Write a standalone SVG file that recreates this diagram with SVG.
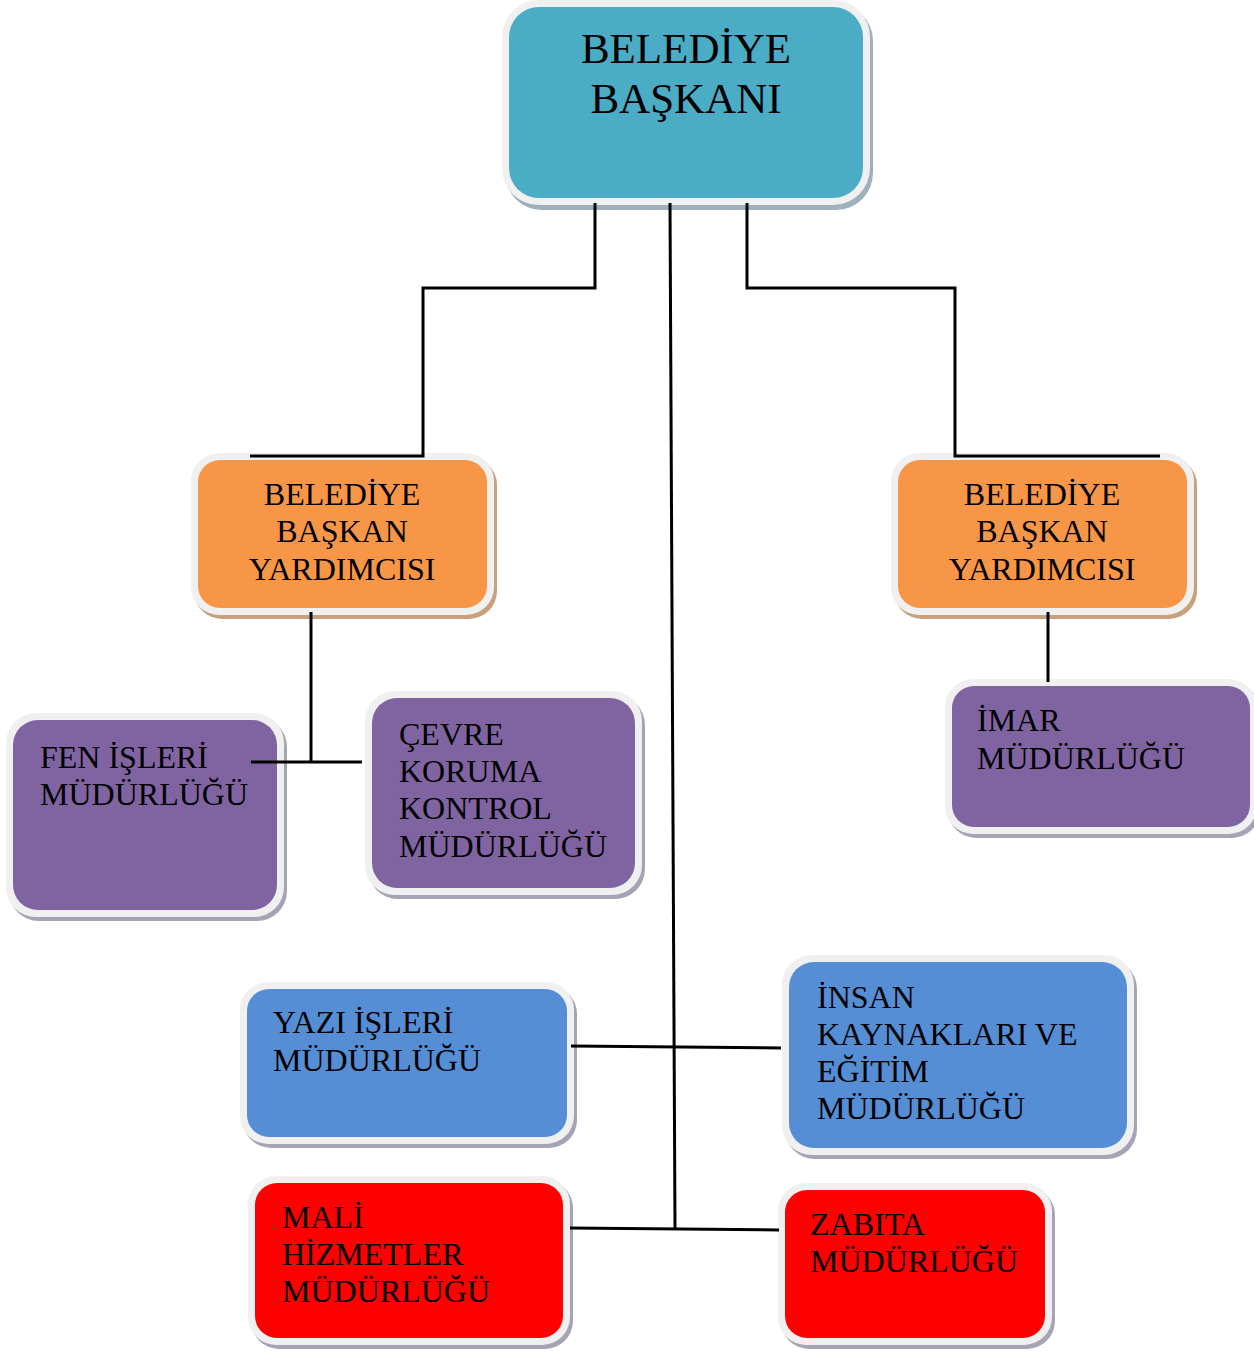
<svg xmlns="http://www.w3.org/2000/svg" width="1254" height="1352" viewBox="0 0 1254 1352">
<style>
.frame{fill:#f0f0f0}
.sh{fill:#a6a3b4}
.sht{fill:#9fb0bd}
.sho{fill:#c9a07c}
.t{font-family:"Liberation Serif","Times New Roman",serif;font-size:32px;fill:#000}
.big{font-size:43px}
.c{fill:none;stroke:#000;stroke-width:3}
</style>
<rect width="1254" height="1352" fill="#fff"/>
<g id="belediye-baskani">
<rect class="sht" x="505" y="4" width="368" height="206" rx="37"/>
<rect class="frame" x="502" y="0" width="368" height="205" rx="37"/>
<rect x="509" y="7" width="354" height="191" rx="30" fill="#4BACC6"/>
<text class="t big" text-anchor="middle" x="686" y="63">BELEDİYE</text>
<text class="t big" text-anchor="middle" x="686" y="113">BAŞKANI</text>
</g>
<g id="yardimci-sol">
<rect class="sho" x="194" y="457" width="303" height="162" rx="28"/>
<rect class="frame" x="191" y="453" width="303" height="162" rx="28"/>
<rect x="198" y="460" width="289" height="148" rx="22" fill="#F79646"/>
<text class="t" text-anchor="middle" x="342" y="505">BELEDİYE</text>
<text class="t" text-anchor="middle" x="342" y="542">BAŞKAN</text>
<text class="t" text-anchor="middle" x="342" y="580">YARDIMCISI</text>
</g>
<g id="yardimci-sag">
<rect class="sho" x="894" y="457" width="303" height="162" rx="28"/>
<rect class="frame" x="891" y="453" width="303" height="162" rx="28"/>
<rect x="898" y="460" width="289" height="148" rx="22" fill="#F79646"/>
<text class="t" text-anchor="middle" x="1042" y="505">BELEDİYE</text>
<text class="t" text-anchor="middle" x="1042" y="542">BAŞKAN</text>
<text class="t" text-anchor="middle" x="1042" y="580">YARDIMCISI</text>
</g>
<g id="fen-isleri">
<rect class="sh" x="9" y="717" width="278" height="204" rx="30"/>
<rect class="frame" x="6" y="713" width="278" height="204" rx="30"/>
<rect x="13" y="720" width="264" height="190" rx="25" fill="#8064A2"/>
<text class="t" x="40" y="768">FEN İŞLERİ</text>
<text class="t" x="40" y="805">MÜDÜRLÜĞÜ</text>
</g>
<g id="cevre-koruma">
<rect class="sh" x="368" y="695" width="277" height="204" rx="30"/>
<rect class="frame" x="365" y="691" width="277" height="204" rx="30"/>
<rect x="372" y="698" width="263" height="190" rx="25" fill="#8064A2"/>
<text class="t" x="399" y="745">ÇEVRE</text>
<text class="t" x="399" y="782">KORUMA</text>
<text class="t" x="399" y="819">KONTROL</text>
<text class="t" x="399" y="857">MÜDÜRLÜĞÜ</text>
</g>
<g id="imar">
<rect class="sh" x="948" y="683" width="312" height="155" rx="28"/>
<rect class="frame" x="945" y="679" width="312" height="155" rx="28"/>
<rect x="952" y="686" width="298" height="141" rx="22" fill="#8064A2"/>
<text class="t" x="977" y="731">İMAR</text>
<text class="t" x="977" y="769">MÜDÜRLÜĞÜ</text>
</g>
<g id="yazi-isleri">
<rect class="sh" x="243" y="986" width="334" height="162" rx="28"/>
<rect class="frame" x="240" y="982" width="334" height="162" rx="28"/>
<rect x="247" y="989" width="320" height="148" rx="22" fill="#558ED5"/>
<text class="t" x="273" y="1033">YAZI İŞLERİ</text>
<text class="t" x="273" y="1071">MÜDÜRLÜĞÜ</text>
</g>
<g id="insan-kaynaklari">
<rect class="sh" x="785" y="959" width="352" height="200" rx="30"/>
<rect class="frame" x="782" y="955" width="352" height="200" rx="30"/>
<rect x="789" y="962" width="338" height="186" rx="25" fill="#558ED5"/>
<text class="t" x="817" y="1008">İNSAN</text>
<text class="t" x="817" y="1045">KAYNAKLARI VE</text>
<text class="t" x="817" y="1082">EĞİTİM</text>
<text class="t" x="817" y="1119">MÜDÜRLÜĞÜ</text>
</g>
<g id="mali-hizmetler">
<rect class="sh" x="251" y="1180" width="322" height="169" rx="28"/>
<rect class="frame" x="248" y="1176" width="322" height="169" rx="28"/>
<rect x="255" y="1183" width="308" height="155" rx="22" fill="#FF0000"/>
<text class="t" x="282" y="1228">MALİ</text>
<text class="t" x="282" y="1265">HİZMETLER</text>
<text class="t" x="282" y="1302">MÜDÜRLÜĞÜ</text>
</g>
<g id="zabita">
<rect class="sh" x="781" y="1187" width="274" height="162" rx="28"/>
<rect class="frame" x="778" y="1183" width="274" height="162" rx="28"/>
<rect x="785" y="1190" width="260" height="148" rx="22" fill="#FF0000"/>
<text class="t" x="810" y="1235">ZABITA</text>
<text class="t" x="810" y="1272">MÜDÜRLÜĞÜ</text>
</g>
<g id="connectors">
<polyline class="c" points="595,203 595,288 423,288 423,456 250,456"/>
<polyline class="c" points="747,203 747,288 955,288 955,456 1160,456"/>
<line class="c" x1="670" y1="203" x2="675" y2="1229"/>
<line class="c" x1="571" y1="1046" x2="781" y2="1048"/>
<line class="c" x1="570" y1="1228" x2="779" y2="1230"/>
<line class="c" x1="311" y1="612" x2="311" y2="762"/>
<line class="c" x1="251" y1="762" x2="362" y2="762"/>
<line class="c" x1="1048" y1="612" x2="1048" y2="682"/>
</g>
</svg>
